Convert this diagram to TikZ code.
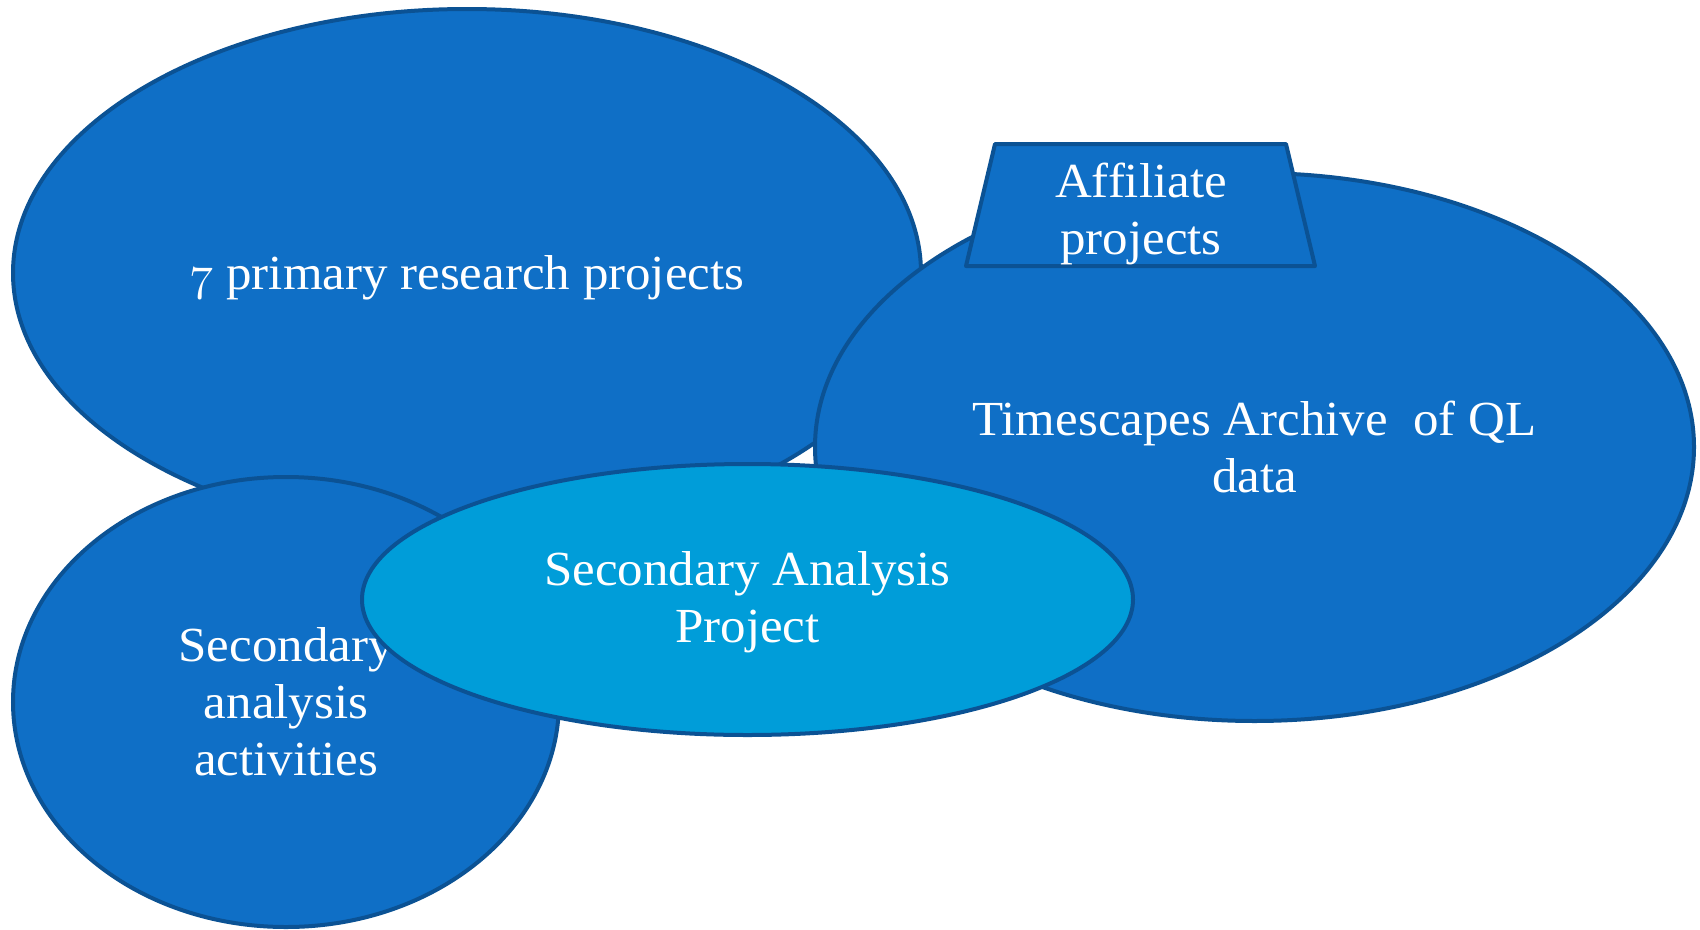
\documentclass[tikz,border=0pt]{standalone}
\usepackage{fix-cm}
\usepackage{fontspec}
\setmainfont{Liberation Serif}[FakeStretch=1.04]
\usetikzlibrary{shapes.geometric}
\definecolor{blobblue}{HTML}{0F6FC6}
\definecolor{edgeblue}{HTML}{0B5294}
\definecolor{coreblue}{HTML}{009DD9}
\begin{document}
\begin{tikzpicture}[x=1pt,y=-1pt,
  blob/.style={ellipse, draw=edgeblue, line width=4pt, fill=blobblue,
    inner sep=0pt, text=white, align=center,
    font=\fontsize{49}{57}\selectfont},
  label/.style={text=white, align=center, inner sep=0pt,
    font=\fontsize{49}{57}\selectfont}]
\useasboundingbox (0,0) rectangle (1700,929);
% large project ellipse
\node[blob, minimum width=908, minimum height=528] (primary) at (467,273) {};
\node[label] (primarytext) at (467,278) {$\mathnormal{7}$ primary research projects};
% archive ellipse with its tab
\node[blob, minimum width=879, minimum height=548] (archive) at (1254.5,447)
  {Timescapes Archive\ \ of QL\\data};
\path[draw=edgeblue, fill=blobblue, line width=4pt, line join=round]
  (995,144) -- (1286,144) -- (1315,266) -- (966,266) -- cycle;
\node[label] (affiliate) at (1141,214) {Affiliate\\projects};
% secondary analysis activities
\node[blob, minimum width=546, minimum height=450] (activities) at (286,702)
  {Secondary\\analysis\\activities};
% central project
\node[blob, fill=coreblue, minimum width=771, minimum height=271] (core) at (747.5,599.5) {};
\node[label] (coretext) at (747.5,602) {Secondary Analysis\\Project};
\end{tikzpicture}
\end{document}
